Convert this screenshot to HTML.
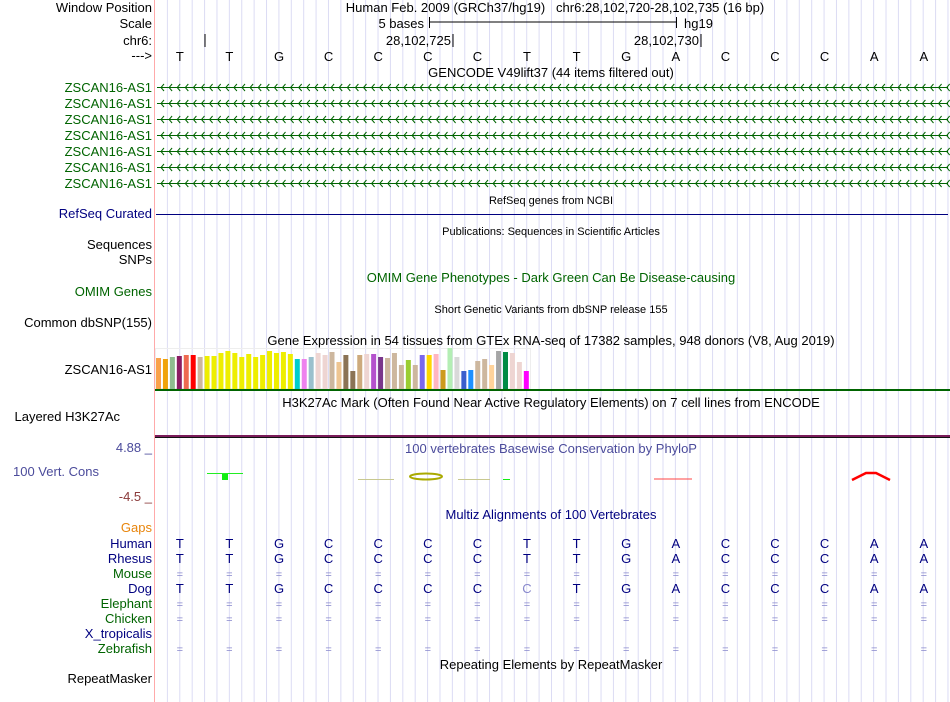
<!DOCTYPE html>
<html><head><meta charset="utf-8"><style>
body{margin:0;background:#fff;width:950px;height:702px;overflow:hidden}
svg{display:block;font-family:"Liberation Sans",sans-serif}
</style></head><body>
<svg id="c" width="950" height="702" xmlns="http://www.w3.org/2000/svg">
<g id="grid"></g>
<line x1="154.5" y1="0" x2="154.5" y2="702" stroke="#ffaaaa"/>
<g font-size="13" text-anchor="end">
<text x="152" y="12">Window Position</text>
<text x="152" y="28">Scale</text>
<text x="152" y="45">chr6:</text>
<text x="152" y="60">---&gt;</text>
<text x="152" y="218" fill="#000080">RefSeq Curated</text>
<text x="152" y="249">Sequences</text>
<text x="152" y="264">SNPs</text>
<text x="152" y="296" fill="#006400">OMIM Genes</text>
<text x="152" y="327">Common dbSNP(155)</text>
<text x="152" y="374">ZSCAN16-AS1</text>
<text x="120" y="421">Layered H3K27Ac</text>
<text x="152" y="452" fill="#4b4b9b">4.88 _</text>
<text x="99" y="476" fill="#4b4b9b">100 Vert. Cons</text>
<text x="152" y="501" fill="#8b3a3a">-4.5 _</text>
<text x="152" y="532" fill="#e8850c">Gaps</text>
<text x="152" y="683">RepeatMasker</text>
</g>
<g id="genes"></g>
<g id="species" font-size="13" text-anchor="end"></g>
<g font-size="13" text-anchor="middle">
<text x="555" y="12" text-anchor="middle">Human Feb. 2009 (GRCh37/hg19)&#160;&#160;&#160;chr6:28,102,720-28,102,735 (16 bp)</text>
<text x="424" y="28" text-anchor="end">5 bases</text>
<text x="684" y="28" text-anchor="start">hg19</text>
<text x="451" y="45" text-anchor="end">28,102,725</text>
<text x="699" y="45" text-anchor="end">28,102,730</text>
<text x="551" y="77">GENCODE V49lift37 (44 items filtered out)</text>
<text x="551" y="204" font-size="11">RefSeq genes from NCBI</text>
<text x="551" y="235" font-size="11">Publications: Sequences in Scientific Articles</text>
<text x="551" y="282" fill="#006400">OMIM Gene Phenotypes - Dark Green Can Be Disease-causing</text>
<text x="551" y="313" font-size="11">Short Genetic Variants from dbSNP release 155</text>
<text x="551" y="345">Gene Expression in 54 tissues from GTEx RNA-seq of 17382 samples, 948 donors (V8, Aug 2019)</text>
<text x="551" y="407">H3K27Ac Mark (Often Found Near Active Regulatory Elements) on 7 cell lines from ENCODE</text>
<text x="551" y="453" fill="#4b4b9b">100 vertebrates Basewise Conservation by PhyloP</text>
<text x="551" y="519" fill="#000080">Multiz Alignments of 100 Vertebrates</text>
<text x="551" y="669">Repeating Elements by RepeatMasker</text>
</g>
<g stroke="#000">
<line x1="429.5" y1="22" x2="677" y2="22"/><line x1="429.5" y1="17" x2="429.5" y2="28"/><line x1="676.5" y1="17" x2="676.5" y2="28"/>
<line x1="205" y1="34" x2="205" y2="47"/><line x1="453" y1="34" x2="453" y2="47"/><line x1="701" y1="34" x2="701" y2="47"/>
</g>
<line x1="156" y1="214.5" x2="948" y2="214.5" stroke="#000080"/>
<g id="bars"></g>
<rect x="155" y="389" width="795" height="2" fill="#006400"/>
<rect x="155" y="435" width="795" height="2" fill="#7b1c5a"/>
<rect x="155" y="437" width="795" height="1" fill="#111"/>
<g>
<line x1="207" y1="473.5" x2="243" y2="473.5" stroke="#22ee22"/>
<rect x="222" y="474" width="6" height="6" fill="#11ee11"/>
<line x1="358" y1="479.5" x2="394" y2="479.5" stroke="#c8c890"/>
<ellipse cx="426" cy="476.5" rx="16" ry="3" fill="none" stroke="#aaaa00" stroke-width="2"/>
<line x1="458" y1="479.5" x2="490" y2="479.5" stroke="#c8c890"/>
<line x1="503" y1="479.5" x2="510" y2="479.5" stroke="#11ee11"/>
<line x1="654" y1="479" x2="692" y2="479" stroke="#ff4444"/>
<path d="M852 480 L866 473 L876 473 L890 480" fill="none" stroke="#ff0000" stroke-width="2.5"/>
</g>
<g id="bases" font-size="13" text-anchor="middle"></g>
</svg>
<script>
const NS="http://www.w3.org/2000/svg";
function mk(tag,attrs,parent){const e=document.createElementNS(NS,tag);for(const k in attrs)e.setAttribute(k,attrs[k]);parent.appendChild(e);return e;}
const grid=document.getElementById('grid');
for(let k=0;k<64;k++){const x=167.4+k*12.39;const l=mk('line',{x1:x,y1:0,x2:x,y2:702,stroke:'#dcdcf4'},grid);

}
const X0=155,BW=49.6;
function baseX(i){return X0+BW/2+i*BW;}
const refBases=["T","T","G","C","C","C","C","T","T","G","A","C","C","C","A","A"];
const bg=document.getElementById('bases');
refBases.forEach((b,i)=>{const t=mk('text',{x:baseX(i),y:61},bg);t.textContent=b;

});
const genes=document.getElementById('genes');
const geneRows=[87,103,119,135,151,167,183];
geneRows.forEach(y=>{
const lb=mk('text',{x:152,y:y+5,'font-size':13,'text-anchor':'end',fill:'#006400'},genes);lb.textContent='ZSCAN16-AS1';


const g=mk('g',{stroke:'#006400',fill:'none'},genes);


mk('line',{x1:157,y1:y+0.5,x2:948,y2:y+0.5},g);
let d='';for(let x=161;x<948;x+=8.1){d+=`M${x+3} ${y-3} L${x} ${y+0.5} L${x+3} ${y+4} `;}
mk('path',{d:d},g);
});
const gtexValues=[31,30,32,33,34,34,32,33,33,36,38,36,32,35,32,34,38,36,37,35,30,30,32,36,34,37,27,34,18,34,35,35,32,31,36,24,29,24,34,34,35,19,41,32,18,19,28,30,24,38,37,36,27,18];
const gtexColors=["#f9a14a","#f0a30a","#8fbc8f","#8b1c62","#ee6a50","#ff0000","#cdb79e","#eeee00","#eeee00","#eeee00","#eeee00","#eeee00","#eeee00","#eeee00","#eeee00","#eeee00","#eeee00","#eeee00","#eeee00","#eeee00","#00cdcd","#ee82ee","#9ac0cd","#eed5d2","#eed5d2","#cdb79e","#eec591","#8b7355","#8b7355","#cdaa7d","#eed5d2","#b452cd","#7a378b","#cdb79e","#cdb79e","#cdb79e","#9acd32","#cdb79e","#7b68ee","#ffd700","#ffb6c1","#cd9b1d","#b4eeb4","#d9d9d9","#3a5fcd","#1e90ff","#cdb79e","#cdb79e","#ffd39b","#a6a6a6","#008b45","#eed5d2","#eed5d2","#ff00ff"];
const bars=document.getElementById('bars');
const yBase=389;
function yS(v){return yBase-v;}
mk('rect',{x:155.5,y:348.5,width:375,height:40,fill:'none',stroke:'#eeeeee'},bars);
gtexValues.forEach((v,i)=>{const r=mk('rect',{x:156+i*6.94,y:yS(v),width:5,height:yBase-yS(v),fill:gtexColors[i]},bars);

});
const species=[["Human",543,"#000080"],["Rhesus",558,"#000080"],["Mouse",573,"#006400"],["Dog",588,"#000080"],["Elephant",603,"#006400"],["Chicken",618,"#006400"],["X_tropicalis",633,"#000080"],["Zebrafish",648,"#006400"]];
const alignRows={Human:refBases,Rhesus:refBases,Mouse:Array(16).fill("="),Dog:["T","T","G","C","C","C","C","c","T","G","A","C","C","C","A","A"],Elephant:Array(16).fill("="),Chicken:Array(16).fill("="),X_tropicalis:Array(16).fill(""),Zebrafish:Array(16).fill("=")};
const sg=document.getElementById('species');
species.forEach(([n,y,c])=>{const t=mk('text',{x:152,y:y+5,fill:c},sg);t.textContent=n;


alignRows[n].forEach((b,i)=>{if(!b)return;const eq=b==="=";const lc=b==="c";
const tt=mk('text',{x:baseX(i),y:y+5,'text-anchor':'middle',fill:(eq||lc)?'#8888cc':'#000080','font-size':eq?11:13},sg);tt.textContent=lc?"C":b;

});
});
</script>
</body></html>
